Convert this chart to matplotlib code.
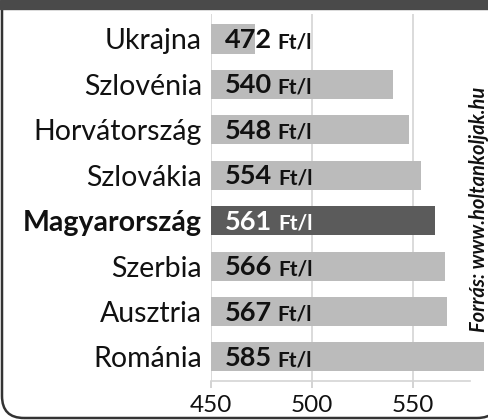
import matplotlib.pyplot as plt
from matplotlib.patches import FancyBboxPatch, Rectangle
from matplotlib.transforms import IdentityTransform

countries = ["Ukrajna", "Szlovénia", "Horvátország", "Szlovákia",
             "Magyarország", "Szerbia", "Ausztria", "Románia"]
prices = [472, 540, 548, 554, 561, 566, 567, 585]
highlight = "Magyarország"
xticks = [450, 500, 550]
source = "Forrás: www.holtankoljak.hu"

plt.rcParams['font.family'] = ['Lato', 'DejaVu Sans']

fig = plt.figure(figsize=(4.88, 4.2), dpi=100)
ax = fig.add_axes([211 / 488, 1 - 381 / 420, (469.6 - 211) / 488, (381 - 14) / 420])

ypos = list(range(len(countries)))
colors = ["#5b5b5b" if c == highlight else "#bbbbbb" for c in countries]
ax.barh(ypos, [p - 450 for p in prices], left=450, height=0.64,
        color=colors, zorder=2, clip_on=False)

for y, c, p in zip(ypos, countries, prices):
    tc = "white" if c == highlight else "#111111"
    num = ax.text(457, y + 0.2, str(p), ha="left", va="baseline",
                  fontsize=19.5, fontweight="bold", color=tc, zorder=3)
    ax.annotate("Ft/l", xy=(1, y + 0.2), xycoords=(num, "data"), xytext=(4, 0),
                textcoords="offset points", ha="left", va="baseline",
                fontsize=15, fontweight="bold", color=tc, zorder=3)

ax.set_xlim(450, 578)
ax.set_ylim(len(countries) - 0.47, -0.55)
ax.set_yticks(ypos)
ax.set_yticklabels(countries, fontsize=20.5, color="#111111")
for lab in ax.get_yticklabels():
    if lab.get_text() == highlight:
        lab.set_fontweight("bold")
ax.tick_params(axis="y", length=0, pad=6.5)
ax.set_xticks(xticks)
ax.tick_params(axis="x", labelsize=17.5, labelcolor="#111111", length=5,
               color="#cccccc", width=1.2, pad=5)
ax.grid(axis="x", color="#d4d4d4", linewidth=1.2, zorder=0)
for s in ["top", "right", "left"]:
    ax.spines[s].set_visible(False)
ax.spines["bottom"].set_color("#d4d4d4")
ax.spines["bottom"].set_linewidth(1.2)

fig.text(479 / 488, 1 - 332 / 420, source, rotation=90, ha="center", va="bottom",
         fontsize=14.5, fontweight="bold", style="italic", color="#111111")

# frame around the chart (pixel coords), rounded at the bottom
frame = FancyBboxPatch((2, 2), 497, 500, boxstyle="round,pad=0,rounding_size=22",
                       transform=IdentityTransform(), fill=False,
                       edgecolor="#333333", linewidth=1.8)
fig.patches.append(frame)
fig.patches.append(Rectangle((0, 1 - 9 / 420), 1, 9 / 420, transform=fig.transFigure,
                             color="#4a4a4a"))

fig.savefig("out.png", dpi=100)
